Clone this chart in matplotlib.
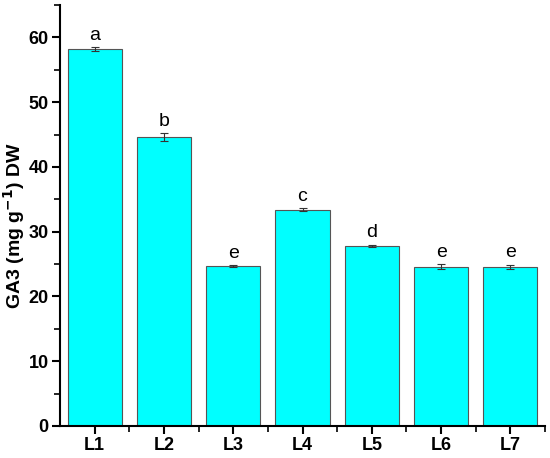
import matplotlib
matplotlib.use("Agg")
import matplotlib.pyplot as plt
import matplotlib.ticker as mticker
import numpy as np

# data
lines = ["L1", "L2", "L3", "L4", "L5", "L6", "L7"]
ga3 = [58.2, 44.6, 24.7, 33.4, 27.8, 24.6, 24.6]
ga3_err = [0.3, 0.6, 0.1, 0.2, 0.2, 0.4, 0.3]
letters = ["a", "b", "e", "c", "d", "e", "e"]

plt.rcParams["font.family"] = ["Liberation Sans", "DejaVu Sans"]

fig = plt.figure(figsize=(5.5, 4.58), dpi=100)
ax = fig.add_axes([0.109, 0.070, 0.882, 0.919])

x = np.arange(1, len(lines) + 1)
ax.bar(x, ga3, width=0.78, color="#00FFFF", edgecolor="#555555",
       linewidth=0.8, zorder=2)
ax.errorbar(x, ga3, yerr=ga3_err, fmt="none", ecolor="#333333",
            elinewidth=0.8, capsize=3, capthick=0.8, zorder=3)

for xi, v, e, lab in zip(x, ga3, ga3_err, letters):
    ax.text(xi, v + e + 0.5, lab, ha="center", va="bottom", fontsize=14)

ax.set_xlim(0.5, 7.5)
ax.set_ylim(0, 65)
ax.set_xticks(x)
ax.set_xticklabels(lines, fontweight="bold", fontsize=13)
ax.xaxis.set_minor_locator(mticker.FixedLocator(np.arange(1.5, 7.6, 1)))
ax.set_yticks(range(0, 61, 10))
ax.yaxis.set_minor_locator(mticker.MultipleLocator(5))
for lbl in ax.get_yticklabels():
    lbl.set_fontweight("bold")
    lbl.set_fontsize(13)

ax.spines["top"].set_visible(False)
ax.spines["right"].set_visible(False)
for s in ("left", "bottom"):
    ax.spines[s].set_linewidth(1.5)
ax.tick_params(which="major", direction="out", length=6, width=1.5, pad=2)
ax.tick_params(which="minor", direction="out", length=4, width=1.2)

ax.set_ylabel("GA3 (mg g$^{\\mathbf{-1}}$) DW", fontweight="bold", fontsize=14)
ax.yaxis.set_label_coords(-0.068, 0.475)

fig.savefig("out.png", dpi=100, facecolor="white")
